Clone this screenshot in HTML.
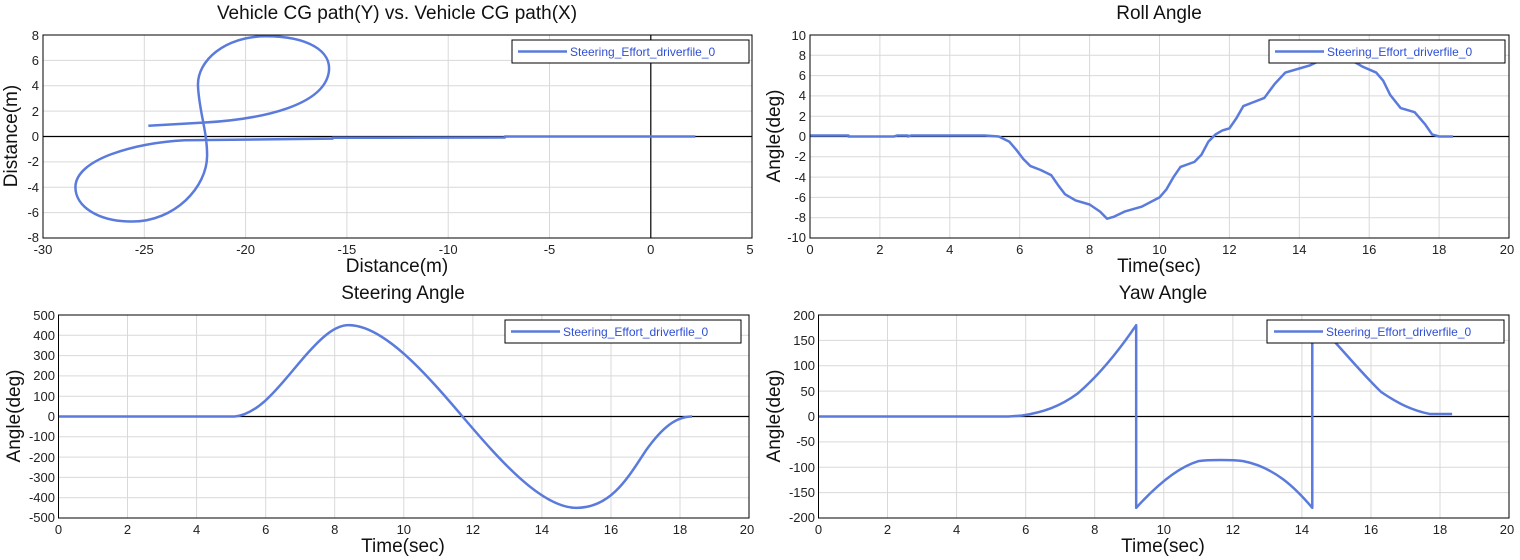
<!DOCTYPE html>
<html><head><meta charset="utf-8"><style>
html,body{margin:0;padding:0;background:#fff;}
svg{display:block;font-family:"Liberation Sans",sans-serif;}
.g{stroke:#d9d9d9;stroke-width:1;fill:none}
.z{stroke:#000;stroke-width:1.2;fill:none}
.b{stroke:#000;stroke-width:1;fill:none}
.d{stroke:#5b7bdc;stroke-width:2.5;fill:none;stroke-linejoin:round}
.t{font-size:13px;fill:#222}
.ti{font-size:19px;fill:#111}
.ax{font-size:19px;fill:#111}
.lg{font-size:12px;fill:#2f4fd4}
</style></head><body>
<svg width="1520" height="560" viewBox="0 0 1520 560" xmlns="http://www.w3.org/2000/svg">
<rect width="1520" height="560" fill="#fff"/>

<!-- ===== TL ===== -->
<path class="g" d="M144.3 35V238M245.6 35V238M346.9 35V238M448.2 35V238M549.5 35V238M43 60.4H752M43 85.7H752M43 111.1H752M43 161.9H752M43 187.3H752M43 212.6H752"/>
<path class="z" d="M43 136.5H752M650.8 35V238"/>
<g transform="translate(650.8,136.5) scale(20.26,-12.69)">
<path class="d" vector-effect="non-scaling-stroke" d="M-24.8 0.85 L-22 1.1 C-19 1.4 -16.2 2.5 -15.9 5 C-15.7 6.8 -17 7.9 -19 7.9 C-21 7.9 -22.4 6 -22.35 4 C-22.3 2 -21.9 0.5 -21.9 -1.5 C-21.9 -4 -23.5 -6.7 -25.6 -6.7 C-27.3 -6.7 -28.4 -5.5 -28.4 -4 C-28.4 -1.8 -25.5 -0.5 -23 -0.3 L-15.7 -0.17 L-15.7 -0.1 L-7.2 -0.08 L-7.2 0 L2.2 0"/>
</g>
<rect class="b" x="43" y="35" width="709" height="203"/>
<rect x="512" y="40" width="237" height="23" fill="#fff" stroke="#000"/>
<path d="M518 51.5H567" stroke="#5b7bdc" stroke-width="2.5"/>
<text class="lg" x="570" y="56">Steering_Effort_driverfile_0</text>
<g class="t" text-anchor="end">
<text x="39" y="40">8</text><text x="39" y="65">6</text><text x="39" y="90">4</text><text x="39" y="116">2</text><text x="39" y="141">0</text><text x="39" y="166">-2</text><text x="39" y="192">-4</text><text x="39" y="217">-6</text><text x="39" y="242">-8</text>
</g>
<g class="t" text-anchor="middle">
<text x="43" y="254">-30</text><text x="144.3" y="254">-25</text><text x="245.6" y="254">-20</text><text x="346.9" y="254">-15</text><text x="448.2" y="254">-10</text><text x="549.5" y="254">-5</text><text x="650.8" y="254">0</text><text x="750" y="254">5</text>
</g>
<text class="ti" x="397" y="19" text-anchor="middle">Vehicle CG path(Y) vs. Vehicle CG path(X)</text>
<text class="ax" x="397" y="272" text-anchor="middle">Distance(m)</text>
<text class="ax" transform="translate(17,136) rotate(-90)" text-anchor="middle">Distance(m)</text>

<!-- ===== TR ===== -->
<path class="g" d="M879.9 35V238M949.8 35V238M1019.7 35V238M1089.6 35V238M1159.5 35V238M1229.4 35V238M1299.3 35V238M1369.2 35V238M1439.1 35V238M810 55.3H1509M810 75.6H1509M810 95.9H1509M810 116.2H1509M810 156.8H1509M810 177.1H1509M810 197.4H1509M810 217.7H1509"/>
<path class="z" d="M810 136.5H1509"/>
<g transform="translate(810,136.5) scale(34.95,-10.15)">
<path class="d" vector-effect="non-scaling-stroke" d="M0 0.1 L1.1 0.1 L1.1 0 L2.4 0 L2.5 0.1 L2.8 0.1 L2.8 0 L2.9 0.1 L5 0.1 L5.4 0 L5.7 -0.5 L5.9 -1.3 L6.1 -2.2 L6.3 -2.9 L6.6 -3.3 L6.9 -3.8 L7.1 -4.8 L7.3 -5.7 L7.6 -6.3 L8 -6.7 L8.3 -7.4 L8.5 -8.1 L8.7 -7.9 L9 -7.4 L9.5 -6.9 L10 -6 L10.2 -5.2 L10.4 -4 L10.6 -3 L11 -2.5 L11.2 -1.8 L11.4 -0.5 L11.6 0.2 L11.8 0.6 L12 0.8 L12.2 1.8 L12.4 3 L12.7 3.4 L13 3.8 L13.3 5.2 L13.6 6.3 L14 6.7 L14.3 7 L14.6 7.5 L15 7.9 L15.5 7.5 L15.8 6.9 L16.2 6.3 L16.4 5.5 L16.6 4.1 L16.9 2.8 L17.3 2.4 L17.6 1.2 L17.8 0.2 L18 0 L18.4 0"/>
</g>
<rect class="b" x="810" y="35" width="699" height="203"/>
<rect x="1269" y="40" width="236" height="23" fill="#fff" stroke="#000"/>
<path d="M1275 51.5H1324" stroke="#5b7bdc" stroke-width="2.5"/>
<text class="lg" x="1327" y="56">Steering_Effort_driverfile_0</text>
<g class="t" text-anchor="end">
<text x="806" y="40">10</text><text x="806" y="60">8</text><text x="806" y="80">6</text><text x="806" y="100">4</text><text x="806" y="121">2</text><text x="806" y="141">0</text><text x="806" y="161">-2</text><text x="806" y="182">-4</text><text x="806" y="202">-6</text><text x="806" y="222">-8</text><text x="806" y="242">-10</text>
</g>
<g class="t" text-anchor="middle">
<text x="810" y="254">0</text><text x="879.9" y="254">2</text><text x="949.8" y="254">4</text><text x="1019.7" y="254">6</text><text x="1089.6" y="254">8</text><text x="1159.5" y="254">10</text><text x="1229.4" y="254">12</text><text x="1299.3" y="254">14</text><text x="1369.2" y="254">16</text><text x="1439.1" y="254">18</text><text x="1507" y="254">20</text>
</g>
<text class="ti" x="1159" y="19" text-anchor="middle">Roll Angle</text>
<text class="ax" x="1159" y="272" text-anchor="middle">Time(sec)</text>
<text class="ax" transform="translate(780,136) rotate(-90)" text-anchor="middle">Angle(deg)</text>

<!-- ===== BL ===== -->
<path class="g" d="M127.5 315V518M196.6 315V518M265.7 315V518M334.7 315V518M403.8 315V518M472.9 315V518M541.9 315V518M611 315V518M680 315V518M58.5 335.3H749M58.5 355.6H749M58.5 375.9H749M58.5 396.2H749M58.5 436.8H749M58.5 457.1H749M58.5 477.4H749M58.5 497.7H749"/>
<path class="z" d="M58.5 416.5H749"/>
<g transform="translate(58.5,416.5) scale(34.53,-0.203)">
<path class="d" vector-effect="non-scaling-stroke" d="M0 0 L5.1 0 C5.8 10 6.4 150 7 270 C7.6 390 8 450 8.4 450 C9.4 450 10.6 220 11.7 0 C12.8 -220 14 -450 15 -450 C16 -450 16.5 -300 17 -170 C17.5 -50 17.9 0 18.35 0"/>
</g>
<rect class="b" x="58.5" y="315" width="690.5" height="203"/>
<rect x="505" y="320" width="236" height="23" fill="#fff" stroke="#000"/>
<path d="M511 331.5H560" stroke="#5b7bdc" stroke-width="2.5"/>
<text class="lg" x="563" y="336">Steering_Effort_driverfile_0</text>
<g class="t" text-anchor="end">
<text x="55" y="320">500</text><text x="55" y="340">400</text><text x="55" y="360">300</text><text x="55" y="380">200</text><text x="55" y="401">100</text><text x="55" y="421">0</text><text x="55" y="441">-100</text><text x="55" y="462">-200</text><text x="55" y="482">-300</text><text x="55" y="502">-400</text><text x="55" y="522">-500</text>
</g>
<g class="t" text-anchor="middle">
<text x="58.5" y="534">0</text><text x="127.5" y="534">2</text><text x="196.6" y="534">4</text><text x="265.7" y="534">6</text><text x="334.7" y="534">8</text><text x="403.8" y="534">10</text><text x="472.9" y="534">12</text><text x="541.9" y="534">14</text><text x="611" y="534">16</text><text x="680" y="534">18</text><text x="747" y="534">20</text>
</g>
<text class="ti" x="403" y="299" text-anchor="middle">Steering Angle</text>
<text class="ax" x="403" y="552" text-anchor="middle">Time(sec)</text>
<text class="ax" transform="translate(20,416) rotate(-90)" text-anchor="middle">Angle(deg)</text>

<!-- ===== BR ===== -->
<path class="g" d="M887.5 315V518M956.6 315V518M1025.7 315V518M1094.7 315V518M1163.8 315V518M1232.9 315V518M1301.9 315V518M1371 315V518M1440 315V518M818.5 340.4H1509M818.5 365.8H1509M818.5 391.1H1509M818.5 441.9H1509M818.5 467.3H1509M818.5 492.6H1509"/>
<path class="z" d="M818.5 416.5H1509"/>
<g transform="translate(818.5,416.5) scale(34.53,-0.5075)">
<path class="d" vector-effect="non-scaling-stroke" d="M0 0 L5.5 0 L5.9 2 C6.5 8 7 20 7.5 45 C8.1 80 8.7 130 9.2 180 L9.2 -180 C9.8 -135 10.4 -100 11 -88 C11.3 -85 12 -85 12.3 -88 C13.2 -100 13.8 -140 14.3 -180 L14.3 180 L14.5 180 C15.2 130 15.8 80 16.3 48 C16.8 25 17.2 12 17.7 5 L18.35 5"/>
</g>
<rect class="b" x="818.5" y="315" width="690.5" height="203"/>
<rect x="1267" y="320" width="237" height="23" fill="#fff" stroke="#000"/>
<path d="M1274 331.5H1323" stroke="#5b7bdc" stroke-width="2.5"/>
<text class="lg" x="1326" y="336">Steering_Effort_driverfile_0</text>
<g class="t" text-anchor="end">
<text x="815" y="320">200</text><text x="815" y="345">150</text><text x="815" y="370">100</text><text x="815" y="396">50</text><text x="815" y="421">0</text><text x="815" y="446">-50</text><text x="815" y="472">-100</text><text x="815" y="497">-150</text><text x="815" y="522">-200</text>
</g>
<g class="t" text-anchor="middle">
<text x="818.5" y="534">0</text><text x="887.5" y="534">2</text><text x="956.6" y="534">4</text><text x="1025.7" y="534">6</text><text x="1094.7" y="534">8</text><text x="1163.8" y="534">10</text><text x="1232.9" y="534">12</text><text x="1301.9" y="534">14</text><text x="1371" y="534">16</text><text x="1440" y="534">18</text><text x="1507" y="534">20</text>
</g>
<text class="ti" x="1163" y="299" text-anchor="middle">Yaw Angle</text>
<text class="ax" x="1163" y="552" text-anchor="middle">Time(sec)</text>
<text class="ax" transform="translate(780,416) rotate(-90)" text-anchor="middle">Angle(deg)</text>
</svg>
</body></html>
